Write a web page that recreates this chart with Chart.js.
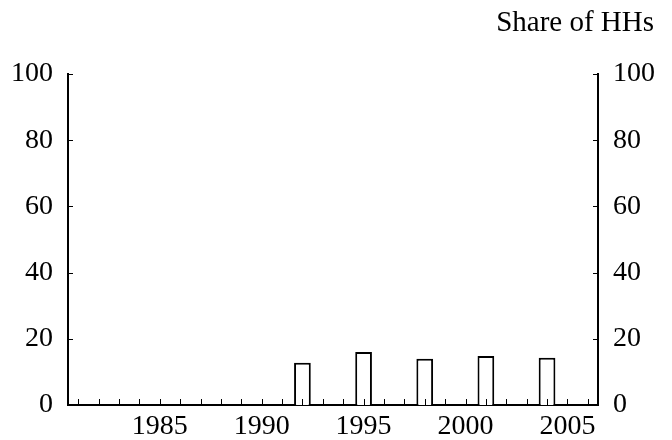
<!DOCTYPE html>
<html>
<head>
<meta charset="utf-8">
<script src="https://cdn.jsdelivr.net/npm/chart.js@4/dist/chart.umd.min.js"></script>
<style>
  html, body { margin: 0; padding: 0; background: #fff; }
  #wrap { width: 672px; height: 440px; position: relative; }
</style>
</head>
<body>
<div id="wrap"><canvas id="c" width="672" height="440"></canvas></div>
<script>
// Data
const years = [1981,1982,1983,1984,1985,1986,1987,1988,1989,1990,1991,1992,1993,1994,1995,1996,1997,1998,1999,2000,2001,2002,2003,2004,2005,2006];
const surveyYears = [1992, 1995, 1998, 2001, 2004];
const shareValues = [12.8, 16.0, 14.0, 14.8, 14.3];
const yTickValues = [0, 20, 40, 60, 80, 100];
const axisTitle = 'Share of HHs';

const seriesData = years.map(y => {
  const i = surveyYears.indexOf(y);
  return i >= 0 ? shareValues[i] : null;
});

const FONT = "'Liberation Serif', 'Times New Roman', serif";

const innerTicks = {
  id: 'innerTicks',
  afterDraw(chart) {
    const ctx = chart.ctx;
    const xs = chart.scales.x, yl = chart.scales.y, yr = chart.scales.y2;
    ctx.save();
    ctx.strokeStyle = '#000';
    ctx.lineWidth = 1;
    ctx.beginPath();
    for (let i = 0; i < years.length; i++) {
      const px = Math.round(xs.getPixelForTick(i)) + 0.5;
      ctx.moveTo(px, xs.top);
      ctx.lineTo(px, xs.top - 6);
    }
    yTickValues.forEach(v => {
      if (v === 0) return;
      const py = Math.round(yl.getPixelForValue(v)) + 0.5;
      ctx.moveTo(yl.right, py);
      ctx.lineTo(yl.right + 5, py);
      const py2 = Math.round(yr.getPixelForValue(v)) + 0.5;
      ctx.moveTo(yr.left, py2);
      ctx.lineTo(yr.left - 5, py2);
    });
    ctx.stroke();
    // axis title (top right)
    ctx.fillStyle = '#000';
    ctx.font = "29px " + FONT;
    ctx.textAlign = 'right';
    ctx.textBaseline = 'middle';
    ctx.fillText(axisTitle, yr.right - 18, 23);
    ctx.restore();
  }
};

new Chart(document.getElementById('c'), {
  type: 'bar',
  data: {
    labels: years,
    datasets: [{
      data: seriesData,
      backgroundColor: '#ffffff',
      borderColor: '#000000',
      borderWidth: 2,
      barPercentage: 0.82,
      categoryPercentage: 1.0
    }]
  },
  options: {
    responsive: false,
    animation: false,
    layout: { padding: { left: 0, right: 0, top: 74, bottom: 0 } },
    plugins: {
      legend: { display: false },
      tooltip: { enabled: false },
      title: { display: false }
    },
    scales: {
      x: {
        offset: true,
        grid: { display: false, drawTicks: false },
        border: { display: true, color: '#000', width: 2 },
        ticks: {
          autoSkip: false,
          maxRotation: 0,
          minRotation: 0,
          padding: 5,
          color: '#000',
          font: { family: FONT, size: 28 },
          callback: function(value, index) {
            const y = years[index];
            return (y % 5 === 0) ? String(y) : '';
          }
        },
        afterFit(scale) { scale.height = 35; }
      },
      y: {
        position: 'left',
        min: 0, max: 100,
        grid: { display: false, drawTicks: false },
        border: { display: true, color: '#000', width: 2 },
        ticks: { stepSize: 20, padding: 15, color: '#000', font: { family: FONT, size: 28 } },
        afterFit(scale) { scale.width = 68; }
      },
      y2: {
        position: 'right',
        min: 0, max: 100,
        grid: { display: false, drawTicks: false },
        border: { display: true, color: '#000', width: 2 },
        ticks: { stepSize: 20, padding: 15, color: '#000', font: { family: FONT, size: 28 } },
        afterFit(scale) { scale.width = 74; }
      }
    }
  },
  plugins: [innerTicks]
});
</script>
</body>
</html>
